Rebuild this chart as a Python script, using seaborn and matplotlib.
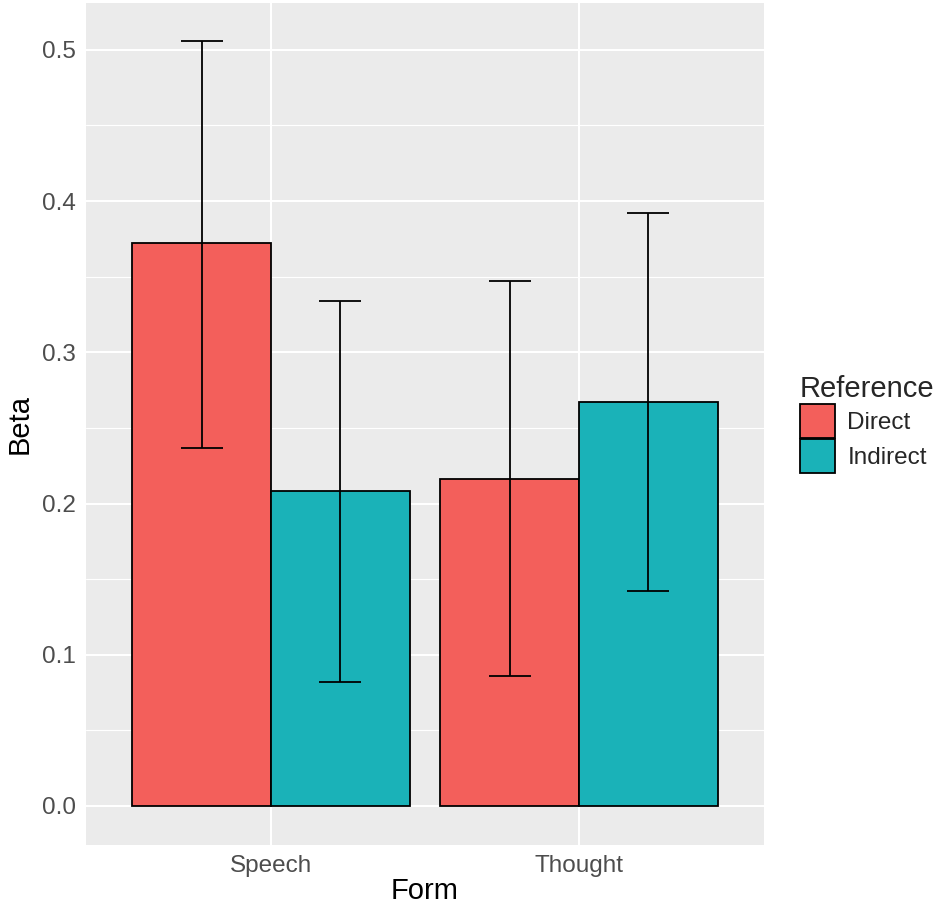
import pandas as pd
import matplotlib
matplotlib.use("Agg")
import matplotlib.pyplot as plt
from matplotlib.patches import Patch
import seaborn as sns

# Data
forms = ["Speech", "Speech", "Thought", "Thought"]
references = ["Direct", "Indirect", "Direct", "Indirect"]
beta = [0.372, 0.208, 0.216, 0.267]
lower = [0.237, 0.082, 0.086, 0.142]
upper = [0.506, 0.334, 0.347, 0.392]

df = pd.DataFrame({"Form": forms, "Reference": references, "Beta": beta,
                   "lo": lower, "hi": upper})

palette = {"Direct": "#F35F5B", "Indirect": "#1AB2B8"}

sns.set_theme(style="darkgrid")
plt.rcParams["font.family"] = ["Liberation Sans", "DejaVu Sans"]

fig = plt.figure(figsize=(9.35, 9.06), dpi=100)
ax = fig.add_axes([86 / 935, (906 - 845) / 906, (764 - 86) / 935, (845 - 3) / 906])
ax.set_facecolor("#EBEBEB")

sns.barplot(data=df, x="Form", y="Beta", hue="Reference", palette=palette,
            order=["Speech", "Thought"], hue_order=["Direct", "Indirect"],
            width=0.9, errorbar=None, edgecolor="black", linewidth=1.3,
            saturation=1, legend=False, ax=ax, zorder=3)

# Error bars at the bar centres given by seaborn
for container, ref in zip(ax.containers, ["Direct", "Indirect"]):
    sub = df[df["Reference"] == ref].set_index("Form").loc[["Speech", "Thought"]]
    xs = [bar.get_x() + bar.get_width() / 2 for bar in container]
    ax.errorbar(xs, sub["Beta"], yerr=[sub["Beta"] - sub["lo"], sub["hi"] - sub["Beta"]],
                fmt="none", ecolor="black", elinewidth=1.3, capsize=15,
                capthick=1.3, zorder=4)

ax.set_xlim(-0.6, 1.6)
ax.set_ylim(-0.0258, 0.531)
ax.set_yticks([0.0, 0.1, 0.2, 0.3, 0.4, 0.5])
ax.set_yticklabels(["0.0", "0.1", "0.2", "0.3", "0.4", "0.5"])
ax.set_yticks([0.05, 0.15, 0.25, 0.35, 0.45], minor=True)

ax.grid(True, which="major", color="white", linewidth=1.5, zorder=0)
ax.grid(True, which="minor", axis="y", color="white", linewidth=0.8, zorder=0)
ax.set_axisbelow(True)
for s in ax.spines.values():
    s.set_visible(False)

ax.tick_params(axis="both", which="major", length=4, width=1.2, color="#333333",
               labelsize=17.5, labelcolor="#4D4D4D", pad=3)
ax.tick_params(axis="both", which="minor", length=0)

ax.set_xlabel("Form", fontsize=21, color="black", labelpad=0)
ax.set_ylabel("Beta", fontsize=21, color="black", labelpad=6)

handles = [Patch(facecolor=palette[r], edgecolor="black", linewidth=1.3, label=r)
           for r in ["Direct", "Indirect"]]
leg = ax.legend(handles=handles, title="Reference", loc="center left",
                bbox_to_anchor=(1.035, 0.50), frameon=False, fontsize=17.5,
                title_fontsize=21, handlelength=1.45, handleheight=1.75,
                handletextpad=0.5, labelspacing=0.05, borderpad=0)
leg._legend_box.align = "left"

fig.savefig("out.png", dpi=100)
